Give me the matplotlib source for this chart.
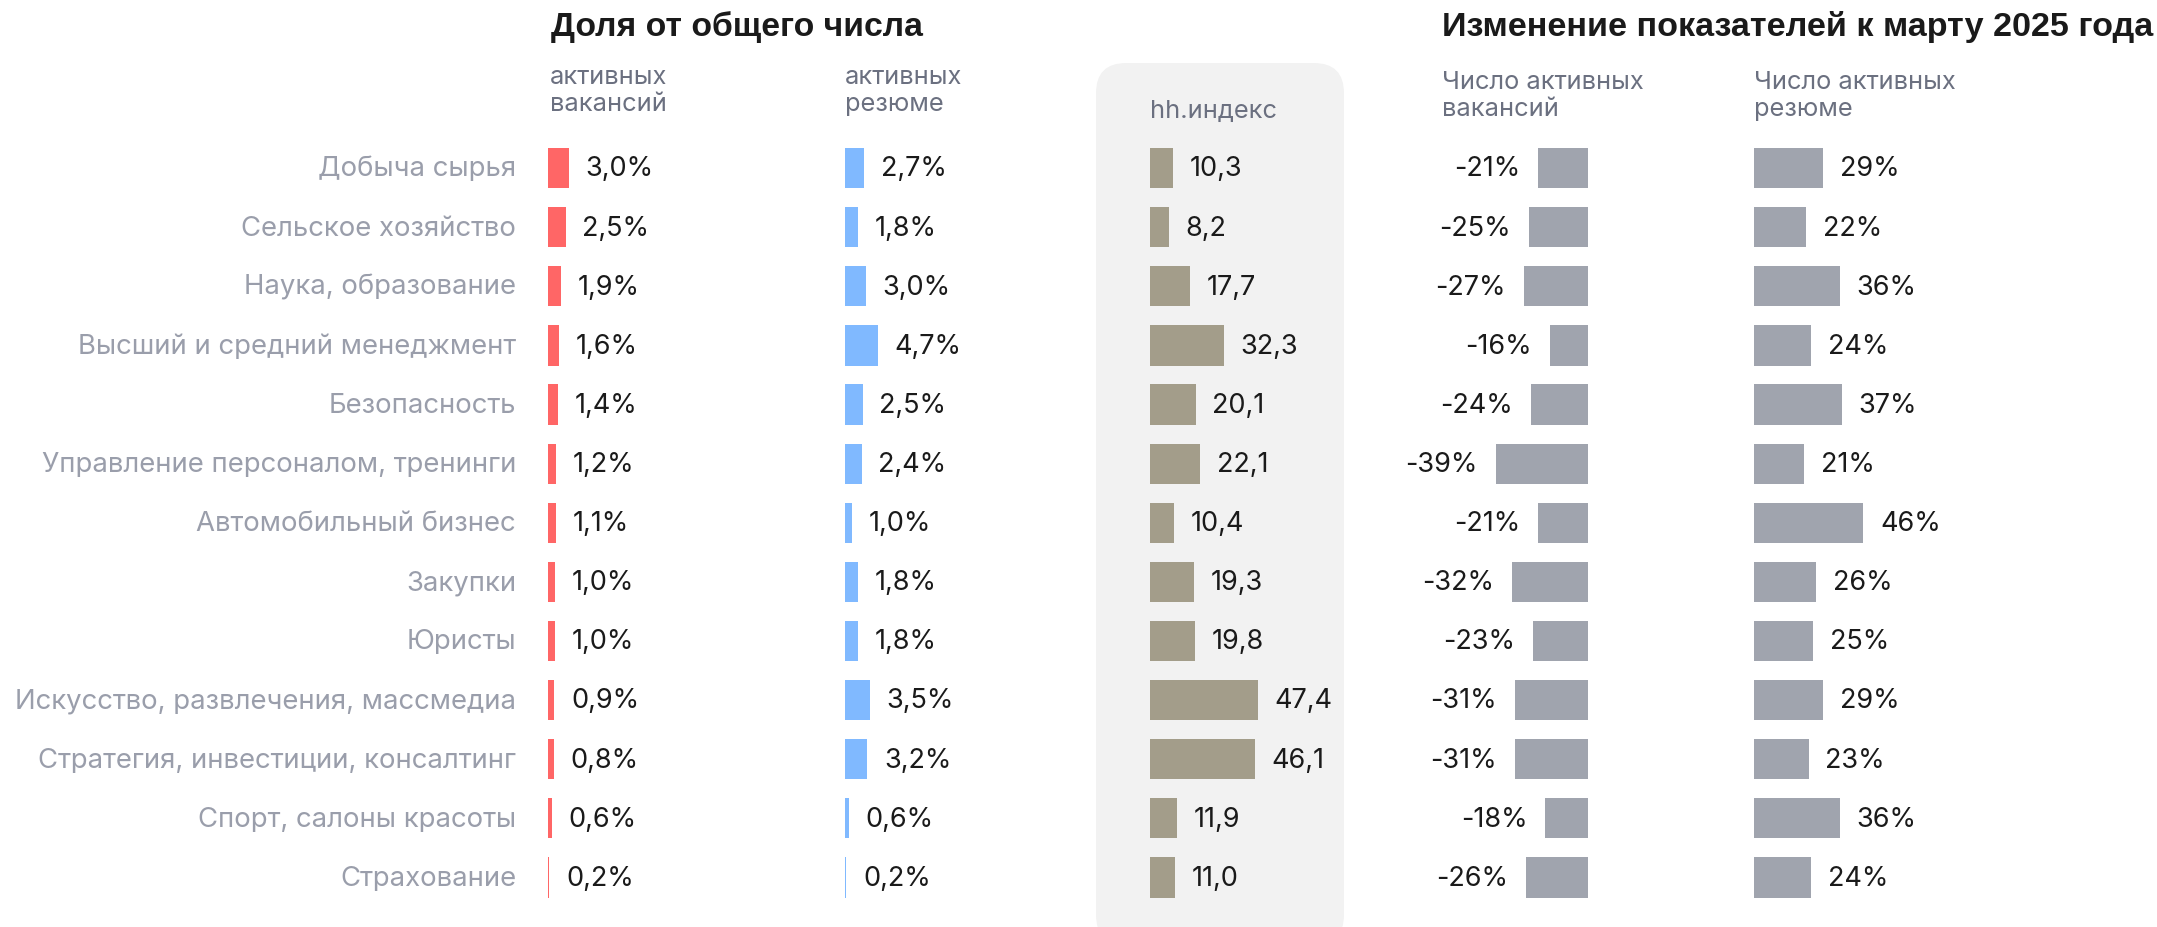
import matplotlib.pyplot as plt
from matplotlib.patches import FancyBboxPatch
import numpy as np

categories = ["Добыча сырья", "Сельское хозяйство", "Наука, образование",
              "Высший и средний менеджмент", "Безопасность",
              "Управление персоналом, тренинги", "Автомобильный бизнес",
              "Закупки", "Юристы", "Искусство, развлечения, массмедиа",
              "Стратегия, инвестиции, консалтинг", "Спорт, салоны красоты",
              "Страхование"]
share_vac = [3.0, 2.5, 1.9, 1.6, 1.4, 1.2, 1.1, 1.0, 1.0, 0.9, 0.8, 0.6, 0.2]
share_res = [2.7, 1.8, 3.0, 4.7, 2.5, 2.4, 1.0, 1.8, 1.8, 3.5, 3.2, 0.6, 0.2]
hh_index = [10.3, 8.2, 17.7, 32.3, 20.1, 22.1, 10.4, 19.3, 19.8, 47.4, 46.1, 11.9, 11.0]
chg_vac = [-21, -25, -27, -16, -24, -39, -21, -32, -23, -31, -31, -18, -26]
chg_res = [29, 22, 36, 24, 37, 21, 46, 26, 25, 29, 23, 36, 24]

W, H = 2157, 927
plt.rcParams['font.family'] = ['Inter', 'DejaVu Sans']
fig = plt.figure(figsize=(W / 100, H / 100), dpi=100)

LABEL_C = "#9A9EAB"
SUB_C = "#6B7080"
TXT_C = "#1A1A1A"
FS = 19.5
LFS = 19.8
n = len(categories)
rows = np.arange(n)

# grey panel behind hh.index
fig.patches.append(FancyBboxPatch((1096 / W, 1 - 945 / H), 248 / W, 882 / H,
                                  boxstyle="round,pad=0,rounding_size=0.014",
                                  transform=fig.transFigure, fc="#F2F2F2",
                                  ec="none", zorder=-5,
                                  mutation_aspect=W / H))

top, bot = 138.5, 907.0


def make_ax(left, right):
    ax = fig.add_axes([left / W, 1 - bot / H, (right - left) / W, (bot - top) / H])
    ax.set_ylim(n - 0.5, -0.5)
    ax.axis("off")
    ax.patch.set_alpha(0)
    ax.set_zorder(2)
    return ax


def fmt_pct(v):
    return f"{v:.1f}".replace(".", ",") + "%"


# column 1: share of vacancies
ax1 = make_ax(548, 800)
ax1.set_xlim(0, 252 / 7.0)
ax1.barh(rows, share_vac, height=0.68, color="#FF6666")
for i, v in enumerate(share_vac):
    ax1.annotate(fmt_pct(v), (v, i), xytext=(12, -1), textcoords="offset points",
                 va="center", ha="left", fontsize=FS, color=TXT_C)
    ax1.annotate(categories[i], (0, i), xytext=(-23, -1), textcoords="offset points",
                 va="center", ha="right", fontsize=LFS, color=LABEL_C)

# column 2: share of resumes
ax2 = make_ax(845, 1090)
ax2.set_xlim(0, 245 / 7.0)
ax2.barh(rows, share_res, height=0.68, color="#80B9FF")
for i, v in enumerate(share_res):
    ax2.annotate(fmt_pct(v), (v, i), xytext=(12, -1), textcoords="offset points",
                 va="center", ha="left", fontsize=FS, color=TXT_C)

# column 3: hh.index
ax3 = make_ax(1150, 1340)
ax3.set_xlim(0, 190 / 2.28)
ax3.barh(rows, hh_index, height=0.68, color="#A39D8A")
for i, v in enumerate(hh_index):
    ax3.annotate(f"{v:.1f}".replace(".", ","), (v, i), xytext=(12, -1),
                 textcoords="offset points", va="center", ha="left",
                 fontsize=FS, color=TXT_C)

# column 4: change in vacancies
ax4 = make_ax(1400, 1588)
ax4.set_xlim(-188 / 2.37, 0)
ax4.barh(rows, chg_vac, height=0.68, color="#A0A4AE")
for i, v in enumerate(chg_vac):
    ax4.annotate(f"{v}%", (v, i), xytext=(-13, -1), textcoords="offset points",
                 va="center", ha="right", fontsize=FS, color=TXT_C)

# column 5: change in resumes
ax5 = make_ax(1754, 2100)
ax5.set_xlim(0, 346 / 2.38)
ax5.barh(rows, chg_res, height=0.68, color="#A0A4AE")
for i, v in enumerate(chg_res):
    ax5.annotate(f"{v}%", (v, i), xytext=(12, -1), textcoords="offset points",
                 va="center", ha="left", fontsize=FS, color=TXT_C)

# headers
def ftext(x, y, s, **kw):
    fig.text(x / W, 1 - y / H, s, **kw)

ftext(551, 27, "Доля от общего числа", fontsize=24.3, fontweight="bold",
      color=TXT_C, va="center", family=["Liberation Sans", "DejaVu Sans"])
ftext(1442, 27, "Изменение показателей к марту 2025 года", fontsize=24.6,
      fontweight="bold", color=TXT_C, va="center",
      family=["Liberation Sans", "DejaVu Sans"])
SFS = 18.3
ftext(550, 91, "активных\nвакансий", fontsize=SFS, color=SUB_C, va="center",
      linespacing=1.25)
ftext(845, 91, "активных\nрезюме", fontsize=SFS, color=SUB_C, va="center",
      linespacing=1.25)
ftext(1150, 111, "hh.индекс", fontsize=SFS, color=SUB_C, va="center")
ftext(1442, 96, "Число активных\nвакансий", fontsize=SFS, color=SUB_C,
      va="center", linespacing=1.25)
ftext(1754, 96, "Число активных\nрезюме", fontsize=SFS, color=SUB_C,
      va="center", linespacing=1.25)

fig.savefig("out.png", dpi=100, facecolor="white")
